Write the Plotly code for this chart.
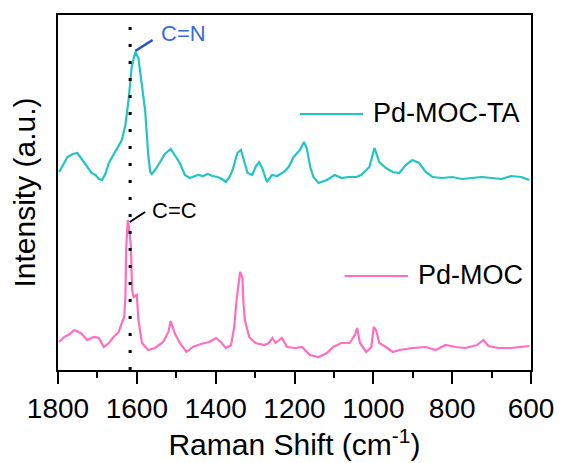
import plotly.graph_objects as go

# ---- data ----
ta_shift = [1797, 1786, 1776, 1763, 1751, 1738, 1726, 1715, 1705, 1696, 1688, 1679, 1671, 1660,
            1650, 1638, 1629, 1621, 1613, 1604, 1596, 1587, 1579, 1571, 1566, 1562, 1554, 1541,
            1529, 1514, 1504, 1491, 1478, 1466, 1445, 1432, 1420, 1408, 1395, 1384, 1374, 1365,
            1357, 1345, 1336, 1328, 1319, 1307, 1299, 1290, 1282, 1270, 1257, 1244, 1227, 1215,
            1202, 1186, 1176, 1169, 1160, 1152, 1139, 1118, 1098, 1080, 1064, 1043, 1031, 1010,
            997, 985, 968, 951, 934, 918, 901, 884, 867, 850, 825, 800, 775, 750, 725, 700, 675,
            650, 625, 604]
ta_int = [198, 206, 213, 216, 217, 210, 203, 197, 195, 191, 190, 197, 207, 215,
          222, 230, 245, 270, 303, 318, 312, 287, 260, 215, 198, 196, 200, 208,
          216, 221, 215, 207, 195, 192, 195, 194, 196, 194, 193, 191, 188, 193,
          200, 217, 220, 210, 197, 195, 203, 208, 202, 188, 195, 194, 198, 203,
          213, 220, 228, 222, 203, 193, 187, 190, 195, 192, 193, 193, 195, 203,
          222, 208, 202, 198, 197, 205, 210, 207, 198, 193, 192, 193, 191, 192, 193, 192, 191,
          194, 193, 190]

moc_shift = [1797, 1784, 1770, 1759, 1742, 1726, 1709, 1696, 1684, 1671, 1659, 1646, 1638, 1632,
             1629, 1627, 1623, 1618, 1615, 1612, 1608, 1600, 1596, 1591, 1587, 1571, 1554, 1533,
             1520, 1514, 1504, 1491, 1474, 1458, 1437, 1416, 1399, 1387, 1374, 1361, 1353, 1347,
             1342, 1338, 1332, 1330, 1326, 1315, 1299, 1277, 1265, 1256, 1248, 1232, 1219, 1198,
             1181, 1161, 1139, 1118, 1102, 1081, 1060, 1047, 1041, 1034, 1018, 1005, 999, 993,
             985, 968, 951, 934, 901, 867, 842, 817, 792, 767, 737, 721, 708, 683, 650, 625, 604]
moc_int = [28, 33, 36, 40, 37, 30, 33, 32, 23, 27, 33, 38, 47, 53,
           73, 122, 150, 137, 123, 80, 73, 75, 50, 35, 27, 20, 22, 28,
           38, 49, 37, 27, 18, 23, 26, 28, 32, 28, 22, 25, 43, 70,
           85, 98, 92, 70, 50, 33, 27, 25, 27, 32, 27, 32, 23, 22,
           23, 15, 13, 17, 23, 27, 27, 35, 42, 27, 18, 23, 43, 40,
           27, 23, 18, 20, 22, 23, 20, 25, 23, 22, 25, 30, 24, 22, 22, 23, 24]

series_names = ["Pd-MOC-TA", "Pd-MOC"]
x_ticks = [1800, 1600, 1400, 1200, 1000, 800, 600]
ref_line = 1617

TEAL = "#22C4C4"
PINK = "#FF6EC0"
FONT = "Liberation Sans, Arial, sans-serif"

fig = go.Figure()
fig.add_trace(go.Scatter(x=ta_shift, y=ta_int, mode="lines", name=series_names[0],
                         line=dict(color=TEAL, width=2.2), showlegend=False))
fig.add_trace(go.Scatter(x=moc_shift, y=moc_int, mode="lines", name=series_names[1],
                         line=dict(color=PINK, width=2.2), showlegend=False))

# dotted reference line
fig.add_shape(type="line", xref="x", yref="paper", x0=ref_line, x1=ref_line, y0=0, y1=1,
              line=dict(color="black", width=3, dash="3px,14px"), layer="above")

# peak labels
fig.add_shape(type="line", xref="x", yref="y", x0=1604, y0=319, x1=1560, y1=330,
              line=dict(color="#1F4FC0", width=2.5))
fig.add_annotation(x=1545, y=337, xref="x", yref="y", text="C=N", showarrow=False,
                   xanchor="left", yanchor="middle",
                   font=dict(family=FONT, size=22, color="#3A6AD8"))
fig.add_shape(type="line", xref="x", yref="y", x0=1618, y0=148, x1=1579, y1=158,
              line=dict(color="black", width=2))
fig.add_annotation(x=1566, y=160, xref="x", yref="y", text="C=C", showarrow=False,
                   xanchor="left", yanchor="middle",
                   font=dict(family=FONT, size=22, color="black"))

# manual legends
fig.add_shape(type="line", xref="x", yref="y", x0=1186, x1=1026, y0=256, y1=256,
              line=dict(color=TEAL, width=2))
fig.add_annotation(x=1005, y=257, xref="x", yref="y", text=series_names[0], showarrow=False,
                   xanchor="left", yanchor="middle",
                   font=dict(family=FONT, size=27, color="black"))
fig.add_shape(type="line", xref="x", yref="y", x0=1073, x1=912, y0=94, y1=94,
              line=dict(color=PINK, width=2))
fig.add_annotation(x=892, y=95, xref="x", yref="y", text=series_names[1], showarrow=False,
                   xanchor="left", yanchor="middle",
                   font=dict(family=FONT, size=27, color="black"))

fig.update_layout(
    width=566, height=463,
    margin=dict(l=58, r=30, t=15, b=93),
    paper_bgcolor="white", plot_bgcolor="white",
    font=dict(family=FONT, color="black"),
    xaxis=dict(range=[1800, 600], tickvals=x_ticks, ticktext=[str(v) for v in x_ticks],
               showgrid=False, zeroline=False, showline=True, linecolor="black", linewidth=2,
               mirror=True, ticks="outside", ticklen=12, tickwidth=2, tickcolor="black",
               minor=dict(dtick=100, ticks="outside", ticklen=6, tickwidth=2, tickcolor="black"),
               tickfont=dict(size=28, family=FONT),
               title=dict(text="Raman Shift (cm<sup>-1</sup>)", font=dict(size=30, family=FONT),
                          standoff=6)),
    yaxis=dict(range=[0, 355], showticklabels=False, ticks="", showgrid=False, zeroline=False,
               showline=True, linecolor="black", linewidth=2, mirror=True,
               title=dict(text="Intensity (a.u.)", font=dict(size=30, family=FONT), standoff=12)),
)

fig.write_html("out.html")
